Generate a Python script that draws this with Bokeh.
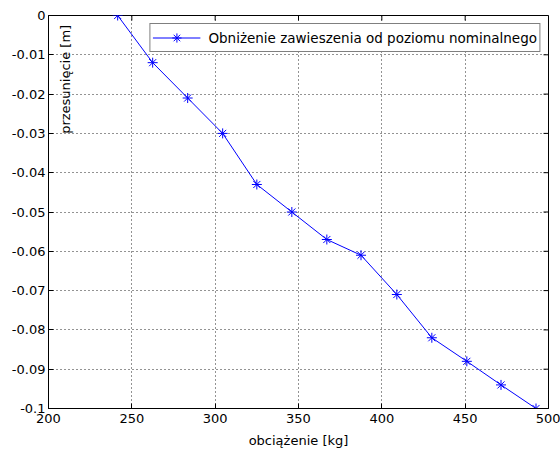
import math
from bokeh.plotting import figure
from bokeh.models import Range1d, FixedTicker, CustomJSTickFormatter, Label
from bokeh.embed import file_html
from bokeh.resources import INLINE

load_kg = [241.5, 262.5, 283.5, 304.5, 325, 346, 367, 387.5, 409, 430, 451, 471.5, 492.5]
shift_m = [0, -0.012, -0.021, -0.030, -0.043, -0.050, -0.057, -0.061, -0.071, -0.082, -0.088, -0.094, -0.100]
x_ticks = [200, 250, 300, 350, 400, 450, 500]
y_ticks = [0, -0.01, -0.02, -0.03, -0.04, -0.05, -0.06, -0.07, -0.08, -0.09, -0.1]
legend_text = "Obniżenie zawieszenia od poziomu nominalnego"
x_title = "obciążenie [kg]"
y_title = "przesunięcie [m]"

FONT = "DejaVu Sans"
FS = "13px"
X0, X1 = 200, 500
Y0, Y1 = -0.1, 0

p = figure(width=560, height=450, output_backend="svg", toolbar_location=None,
           x_range=Range1d(X0, X1), y_range=Range1d(Y0, Y1),
           min_border_left=48, min_border_right=12, min_border_top=15, min_border_bottom=41)
p.background_fill_color = "white"
p.border_fill_color = "white"
p.outline_line_color = "black"
p.outline_line_width = 1

fmt = CustomJSTickFormatter(code="return String(Math.round(tick*100)/100);")

for ax in p.xaxis + p.yaxis:
    ax.major_tick_in = 5
    ax.major_tick_out = 0
    ax.minor_tick_line_color = None
    ax.axis_line_color = "black"
    ax.major_tick_line_color = "black"
    ax.major_label_text_font = FONT
    ax.major_label_text_font_size = FS
    ax.major_label_text_color = "black"
    ax.axis_label_text_font = FONT
    ax.axis_label_text_font_size = FS
    ax.axis_label_text_font_style = "normal"
    ax.axis_label_text_color = "black"

p.xaxis.ticker = FixedTicker(ticks=x_ticks)
p.yaxis.ticker = FixedTicker(ticks=y_ticks)
p.yaxis.formatter = fmt
p.xaxis.major_label_standoff = 5
p.yaxis.major_label_standoff = 3
p.xaxis.axis_label = x_title
p.xaxis.axis_label_standoff = 7

# inward ticks on the top and right edges of the box
p.ray(x=x_ticks, y=[Y1] * len(x_ticks), length=5, length_units="screen",
      angle=-math.pi / 2, line_color="black", line_width=1)
p.ray(x=[X1] * len(y_ticks), y=y_ticks, length=5, length_units="screen",
      angle=math.pi, line_color="black", line_width=1)

for g in (p.xgrid, p.ygrid):
    g.grid_line_color = "black"
    g.grid_line_dash = "1 3"
    g.grid_line_width = 1
    g.grid_line_alpha = 0.85
p.xgrid.ticker = FixedTicker(ticks=x_ticks)
p.ygrid.ticker = FixedTicker(ticks=y_ticks)

p.line(load_kg, shift_m, line_color="#0000FF", line_width=1, legend_label=legend_text)
p.scatter(load_kg, shift_m, marker="asterisk", size=10, line_color="#0000FF", line_width=1,
          legend_label=legend_text)

lab = Label(x=210.2, y=-0.01625, text=y_title, angle=math.pi / 2, text_align="center",
            text_baseline="middle", text_font=FONT, text_font_size=FS, text_color="black")
p.add_layout(lab)

lg = p.legend[0]
lg.location = "top_right"
lg.margin = 8
lg.padding = 2
lg.spacing = 0
lg.glyph_width = 48
lg.glyph_height = 23
lg.label_height = 23
lg.label_standoff = 8
lg.label_text_font = FONT
lg.label_text_font_size = "13.5px"
lg.label_text_color = "black"
lg.border_line_color = "black"
lg.border_line_width = 1
lg.background_fill_color = "white"
lg.background_fill_alpha = 1

open("out.html", "w").write(file_html(p, INLINE))
